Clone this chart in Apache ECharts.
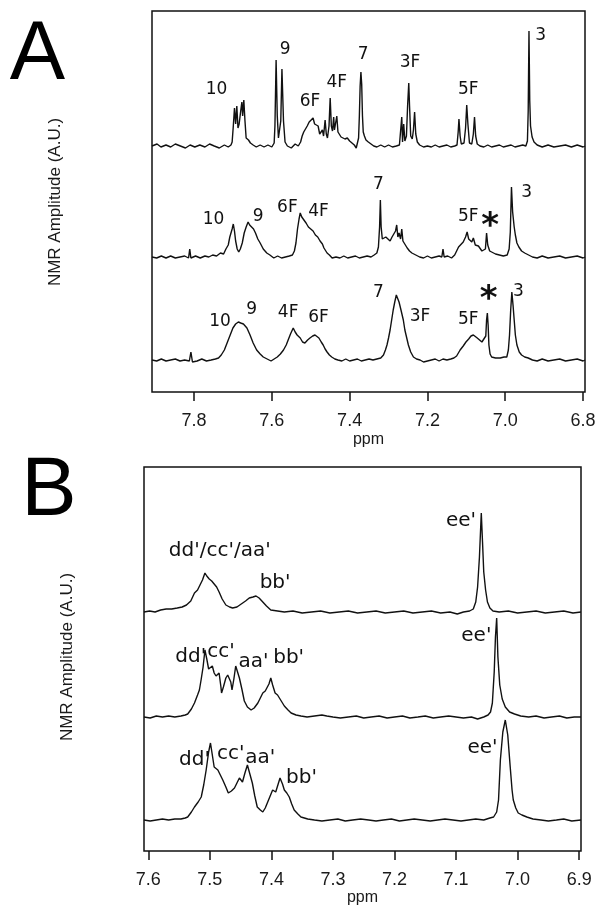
<!DOCTYPE html>
<html>
<head>
<meta charset="utf-8">
<script src="https://cdn.jsdelivr.net/npm/echarts@6.0.0/dist/echarts.min.js"></script>
<style>
  html, body { margin: 0; padding: 0; background: #fff; }
  #chart { width: 604px; height: 918px; }
</style>
</head>
<body>
<div id="chart"></div>
<script>
// panel A spectra: [ppm, amplitude above own baseline]
var specA1 = [
  [7.908,0],[7.895,2],[7.885,-1],[7.872,1],[7.86,-1],[7.848,2],[7.835,0],[7.822,-2],[7.81,1],[7.798,-1],[7.785,1],[7.772,-1],[7.76,2],[7.748,0],[7.735,-2],[7.722,1],[7.712,-1],[7.705,1],
  [7.702,4],[7.699,20],[7.696,38],[7.693,22],[7.690,40],[7.687,18],[7.684,22],[7.680,35],[7.677,44],[7.675,30],[7.672,46],[7.669,25],[7.666,8],[7.660,6],[7.655,3],[7.648,1],
  [7.640,-1],[7.630,1],[7.620,-1],[7.610,1],[7.600,-1],[7.594,3],
  [7.592,20],[7.589,86],[7.586,30],[7.583,8],[7.580,6],[7.577,25],[7.574,77],[7.570,25],[7.566,4],[7.560,0],[7.550,-2],[7.540,2],[7.532,0],[7.526,4],
  [7.522,10],[7.518,14],[7.514,16],[7.509,20],[7.504,24],[7.499,22],[7.494,28],[7.490,22],[7.486,24],[7.481,20],[7.477,12],[7.473,14],[7.470,16],[7.467,10],
  [7.465,18],[7.463,26],[7.460,12],[7.457,8],[7.453,20],[7.450,48],[7.447,20],[7.444,15],[7.441,29],[7.439,16],[7.436,15],[7.433,30],[7.430,14],[7.427,12],[7.422,9],[7.417,10],[7.412,7],[7.406,8],[7.400,5],[7.394,3],[7.388,1],[7.383,-2],[7.379,0],
  [7.377,8],[7.375,30],[7.373,60],[7.371,74],[7.369,62],[7.367,30],[7.365,14],[7.362,10],[7.358,6],[7.352,4],[7.345,2],[7.338,0],
  [7.330,-1],[7.320,1],[7.310,-1],[7.300,1],[7.290,-1],[7.280,0],[7.272,1],
  [7.268,2],[7.266,29],[7.264,4],[7.261,22],[7.258,5],[7.254,10],[7.251,40],[7.248,63],[7.246,40],[7.243,10],[7.239,7],[7.236,16],[7.233,34],[7.230,12],[7.226,4],[7.220,1],
  [7.210,-1],[7.200,0],[7.190,-1],[7.180,1],[7.170,-1],[7.160,0],[7.150,1],[7.140,-1],[7.130,0],[7.124,1],
  [7.121,14],[7.119,27],[7.116,10],[7.113,2],[7.106,3],[7.102,18],[7.099,41],[7.096,22],[7.092,3],[7.086,2],[7.082,12],[7.079,29],[7.076,10],[7.072,2],
  [7.065,0],[7.055,-1],[7.045,1],[7.035,-1],[7.025,0],[7.015,1],[7.005,-1],[6.995,0],[6.985,1],[6.975,-1],[6.965,0],[6.955,1],[6.947,0],
  [6.943,5],[6.941,35],[6.939,115],[6.937,45],[6.935,20],[6.931,9],[6.926,4],[6.918,1],
  [6.905,-1],[6.89,1],[6.875,-1],[6.86,0],[6.845,1],[6.83,-1],[6.815,1],[6.80,-1],[6.795,0]
];
var specA2 = [
  [7.908,0],[7.896,-1],[7.884,1],[7.872,-1],[7.86,1],[7.848,-1],[7.836,0],[7.824,1],[7.814,-1],[7.811,8],[7.808,-1],[7.796,1],[7.784,-1],[7.772,1],[7.762,0],[7.752,2],[7.742,1],[7.732,4],[7.724,3],[7.718,8],[7.712,12],
  [7.708,20],[7.705,24],[7.702,28],[7.699,33],[7.696,26],[7.693,16],[7.689,8],[7.685,5],[7.681,8],
  [7.676,14],[7.671,24],[7.666,30],[7.661,35],[7.657,32],[7.652,30],[7.647,28],[7.642,24],[7.636,18],[7.630,14],[7.622,8],[7.613,4],[7.605,2],[7.595,-1],[7.585,1],[7.575,-1],[7.565,0],[7.555,1],[7.547,2],
  [7.542,6],[7.538,14],[7.534,28],[7.530,38],[7.527,44],[7.523,40],[7.518,38],[7.512,34],[7.506,30],[7.500,28],[7.494,26],[7.488,22],[7.482,20],[7.476,16],[7.470,13],[7.466,9],[7.462,8],[7.458,4],[7.452,2],[7.445,-1],
  [7.435,0],[7.425,-1],[7.415,1],[7.405,-1],[7.395,0],[7.385,1],[7.375,-1],[7.365,0],[7.355,1],[7.345,0],[7.337,2],
  [7.330,4],[7.326,10],[7.323,30],[7.321,57],[7.319,30],[7.316,18],[7.312,17],[7.307,20],[7.302,22],[7.296,16],[7.291,20],[7.286,18],[7.282,26],[7.279,32],[7.276,20],[7.273,24],[7.269,18],[7.266,28],[7.263,16],[7.258,17],[7.252,9],[7.246,6],[7.240,4],[7.230,2],[7.220,0],
  [7.210,-1],[7.200,1],[7.190,-1],[7.180,0],[7.170,1],[7.163,0],[7.160,8],[7.157,0],[7.148,1],[7.138,-1],[7.130,2],
  [7.125,6],[7.120,10],[7.115,12],[7.108,15],[7.102,20],[7.098,25],[7.094,18],[7.090,20],[7.086,15],[7.082,19],[7.077,12],[7.073,10],[7.069,11],[7.065,12],[7.060,6],[7.055,5],[7.051,8],[7.048,24],[7.045,12],[7.040,6],[7.035,4],[7.025,3],[7.015,2],[7.005,1],[6.995,2],
  [6.990,8],[6.987,25],[6.984,70],[6.981,45],[6.977,30],[6.974,22],[6.970,14],[6.965,10],[6.958,6],[6.950,4],[6.940,2],[6.930,0],[6.918,-1],[6.905,1],[6.890,-1],[6.875,0],[6.860,1],[6.845,-1],[6.830,0],[6.815,1],[6.800,-1],[6.795,0]
];
var specA3 = [
  [7.908,0],[7.896,-1],[7.884,1],[7.872,-1],[7.86,0],[7.848,1],[7.836,-1],[7.824,0],[7.812,-1],[7.808,8],[7.804,-2],[7.792,-1],[7.780,1],[7.768,-1],[7.756,0],[7.745,1],[7.737,2],
  [7.730,5],[7.722,10],[7.714,18],[7.707,25],[7.700,32],[7.693,36],[7.686,38],[7.680,37],[7.673,36],[7.664,32],[7.656,25],[7.648,17],[7.639,10],[7.630,6],[7.622,3],[7.612,1],[7.602,-1],[7.594,1],
  [7.586,3],[7.578,6],[7.570,10],[7.563,15],[7.558,20],[7.552,26],[7.545,32],[7.540,28],[7.535,25],[7.527,22],[7.521,18],[7.515,17],[7.508,20],[7.502,22],[7.495,24],[7.489,25],[7.484,24],[7.479,22],[7.473,18],[7.468,15],[7.463,11],[7.458,8],[7.452,5],[7.446,3],[7.438,1],[7.430,0],
  [7.420,-1],[7.410,1],[7.400,-1],[7.390,0],[7.380,1],[7.370,-1],[7.360,0],[7.350,1],[7.340,0],[7.330,1],[7.320,2],
  [7.313,5],[7.308,10],[7.304,15],[7.300,22],[7.296,30],[7.292,40],[7.288,50],[7.284,58],[7.280,65],[7.277,64],[7.273,58],[7.268,50],[7.262,40],[7.258,30],[7.255,25],[7.249,15],[7.243,8],[7.236,3],[7.228,1],[7.219,0],
  [7.210,-2],[7.200,-1],[7.190,0],[7.180,1],[7.170,-1],[7.160,1],[7.150,0],[7.140,1],[7.132,2],
  [7.125,4],[7.116,10],[7.108,14],[7.101,18],[7.094,21],[7.088,24],[7.082,25],[7.077,23],[7.072,22],[7.066,20],[7.060,18],[7.055,20],[7.050,24],[7.048,40],[7.046,47],[7.044,35],[7.042,15],[7.039,6],[7.035,3],[7.025,2],[7.013,2],[7.003,3],[6.996,3],
  [6.992,10],[6.989,25],[6.986,50],[6.983,68],[6.980,55],[6.977,40],[6.974,25],[6.970,15],[6.964,8],[6.958,5],[6.950,3],[6.941,2],[6.930,0],[6.918,-1],[6.905,1],[6.890,-1],[6.875,0],[6.860,1],[6.845,-1],[6.830,0],[6.815,1],[6.800,-1],[6.795,0]
];

// panel B spectra
var specB1 = [
  [7.607,0],[7.598,1],[7.589,0],[7.580,2],[7.571,3],[7.562,3],[7.553,4],[7.545,5],[7.538,7],[7.531,11],[7.525,19],[7.520,22],[7.516,27],[7.512,32],[7.508,39],[7.505,36],[7.501,33],[7.497,31],[7.493,28],[7.489,25],[7.485,20],[7.480,13],[7.474,7],[7.468,5],[7.463,4],[7.456,5],[7.449,8],[7.442,11],[7.436,14],[7.430,15],[7.425,16],[7.420,14],[7.414,10],[7.408,6],[7.401,2],[7.390,1],[7.379,0],
  [7.365,1],[7.350,-1],[7.335,0],[7.320,1],[7.305,-1],[7.290,0],[7.275,1],[7.260,-1],[7.245,0],[7.230,1],[7.215,-1],[7.200,0],[7.185,1],[7.170,-1],[7.155,0],[7.140,1],[7.125,-1],[7.110,0],[7.098,-2],[7.088,0],[7.078,1],
  [7.072,3],[7.068,10],[7.065,25],[7.062,55],[7.059,99],[7.057,70],[7.055,40],[7.052,22],[7.049,10],[7.045,4],[7.040,1],[7.030,0],[7.015,1],[7.000,-1],[6.985,0],[6.970,1],[6.955,-1],[6.940,0],[6.925,1],[6.910,-1],[6.897,0]
];
var specB2 = [
  [7.607,0],[7.597,-1],[7.587,1],[7.577,0],[7.567,1],[7.557,0],[7.547,1],[7.540,2],[7.536,3],[7.530,8],[7.525,14],[7.520,22],[7.517,27],[7.514,38],[7.511,50],[7.508,67],[7.505,58],[7.502,48],[7.499,47],[7.496,51],[7.493,44],[7.490,41],[7.487,43],[7.485,44],[7.482,30],[7.481,24],[7.478,30],[7.474,39],[7.471,42],[7.468,44],[7.466,35],[7.464,27],[7.461,38],[7.458,51],[7.455,45],[7.452,39],[7.448,28],[7.444,16],[7.439,10],[7.433,7],[7.428,9],[7.422,14],[7.418,19],[7.414,24],[7.410,26],[7.407,27],[7.404,33],[7.401,39],[7.398,32],[7.394,24],[7.390,22],[7.387,21],[7.383,15],[7.379,11],[7.373,7],[7.368,4],[7.360,2],[7.352,1],[7.342,0],
  [7.330,1],[7.318,2],[7.310,1],[7.300,0],[7.288,-1],[7.275,0],[7.262,1],[7.250,-1],[7.238,0],[7.225,1],[7.212,-1],[7.200,0],[7.187,1],[7.175,-1],[7.162,0],[7.150,1],[7.137,-1],[7.125,0],[7.112,1],[7.100,0],[7.088,-1],[7.075,0],[7.065,-2],[7.055,0],[7.048,2],
  [7.044,5],[7.041,14],[7.038,45],[7.036,80],[7.034,99],[7.032,60],[7.029,32],[7.025,18],[7.020,10],[7.013,5],[7.005,3],[6.995,1],[6.982,0],[6.970,1],[6.957,-1],[6.945,0],[6.932,1],[6.920,-1],[6.908,0],[6.897,0]
];
var specB3 = [
  [7.607,0],[7.597,-1],[7.587,0],[7.577,1],[7.567,0],[7.557,1],[7.547,1],[7.540,2],[7.536,3],[7.530,8],[7.525,13],[7.519,18],[7.514,23],[7.510,35],[7.506,50],[7.502,68],[7.499,77],[7.496,65],[7.493,53],[7.490,51],[7.487,50],[7.483,45],[7.479,40],[7.474,33],[7.470,27],[7.465,29],[7.460,32],[7.456,37],[7.452,42],[7.447,38],[7.443,47],[7.439,55],[7.435,46],[7.431,37],[7.427,24],[7.423,13],[7.418,10],[7.414,8],[7.410,12],[7.406,18],[7.402,24],[7.398,30],[7.393,28],[7.389,36],[7.386,42],[7.382,36],[7.379,30],[7.375,27],[7.371,23],[7.367,16],[7.363,10],[7.357,6],[7.352,3],[7.341,1],[7.330,0],
  [7.318,-1],[7.305,0],[7.292,1],[7.280,-1],[7.268,0],[7.255,1],[7.242,0],[7.230,-1],[7.218,0],[7.205,1],[7.192,-1],[7.180,0],[7.168,1],[7.155,0],[7.142,-1],[7.130,0],[7.118,1],[7.105,0],[7.092,-1],[7.080,0],[7.068,1],[7.055,0],[7.045,2],
  [7.039,3],[7.034,8],[7.031,20],[7.028,60],[7.024,88],[7.020,100],[7.016,85],[7.012,53],[7.009,30],[7.007,20],[7.003,12],[6.999,7],[6.993,5],[6.985,3],[6.975,1],[6.962,0],[6.950,-1],[6.937,0],[6.925,1],[6.912,-1],[6.897,0]
];

// baselines of the stacked traces (amplitude units)
var offsetsA = [246, 135, 32];
var offsetsB = [239, 134, 31];

// tick values
var ticksA = [7.8, 7.6, 7.4, 7.2, 7.0, 6.8];
var ticksB = [7.6, 7.5, 7.4, 7.3, 7.2, 7.1, 7.0, 6.9];

// peak labels: [text, ppm, amplitude]
var labelsA = [
  ['10', 7.742, 302], ['9', 7.566, 342], ['6F', 7.502, 290], ['4F', 7.433, 309], ['7', 7.365, 337], ['3F', 7.245, 329], ['5F', 7.095, 302], ['3', 6.909, 356],
  ['10', 7.750, 172], ['9', 7.635, 175], ['6F', 7.560, 184], ['4F', 7.480, 180], ['7', 7.326, 207], ['5F', 7.095, 175], ['3', 6.945, 199],
  ['10', 7.733, 70], ['9', 7.652, 82], ['4F', 7.558, 79], ['6F', 7.480, 74], ['7', 7.326, 99], ['3F', 7.219, 75], ['5F', 7.095, 72], ['3', 6.966, 100]
];
var starsA = [['*', 7.039, 172], ['*', 7.043, 99]];
var labelsB = [
  ["dd'/cc'/aa'", 7.484, 300], ["bb'", 7.394, 268], ["ee'", 7.092, 330],
  ["dd'", 7.531, 194], ["cc'", 7.482, 199], ["aa'", 7.429, 189], ["bb'", 7.372, 193], ["ee'", 7.067, 215],
  ["dd'", 7.525, 91], ["cc'", 7.466, 97], ["aa'", 7.418, 93], ["bb'", 7.351, 73], ["ee'", 7.057, 103]
];

var ink = '#111';

function shift(arr, off) {
  return arr.map(function (p) { return [p[0], p[1] + off]; });
}

function traceSeries(arr, off, idx) {
  return {
    type: 'line',
    xAxisIndex: idx,
    yAxisIndex: idx,
    data: shift(arr, off),
    showSymbol: false,
    silent: true,
    lineStyle: { color: ink, width: 1.4 }
  };
}

function labelSeries(list, idx, size, weight, offset) {
  return {
    type: 'scatter',
    xAxisIndex: idx,
    yAxisIndex: idx,
    symbolSize: 0,
    silent: true,
    itemStyle: { opacity: 1 },
    data: list.map(function (l) { return { name: l[0], value: [l[1], l[2]] }; }),
    label: {
      show: true,
      position: 'inside',
      formatter: '{b}',
      color: ink,
      opacity: 1,
      fontFamily: 'DejaVu Sans',
      fontSize: size,
      fontWeight: weight,
      offset: offset || [0, 0]
    }
  };
}

function xAxisOf(idx, lo, hi, ticks, gap) {
  return {
    gridIndex: idx,
    type: 'value',
    inverse: true,
    min: lo,
    max: hi,
    axisLine: { show: false },
    axisTick: { show: true, inside: false, length: 9, customValues: ticks, lineStyle: { color: ink, width: 1.5 } },
    axisLabel: {
      customValues: ticks,
      margin: 20,
      color: '#1a1a1a',
      fontSize: 18,
      fontFamily: 'Liberation Sans',
      formatter: function (v) { return v.toFixed(1); }
    },
    splitLine: { show: false },
    name: 'ppm',
    nameLocation: 'middle',
    nameGap: gap,
    nameTextStyle: { color: '#1a1a1a', fontSize: 16, fontFamily: 'Liberation Sans' }
  };
}

var chart = echarts.init(document.getElementById('chart'));
chart.setOption({
  animation: false,
  backgroundColor: '#fff',
  grid: [
    { left: 152, top: 11, width: 433, height: 381, show: true, borderColor: ink, borderWidth: 1.5 },
    { left: 144, top: 467, width: 437, height: 384, show: true, borderColor: ink, borderWidth: 1.5 }
  ],
  xAxis: [
    xAxisOf(0, 6.795, 7.908, ticksA, 40),
    xAxisOf(1, 6.897, 7.607, ticksB, 38)
  ],
  yAxis: [
    { gridIndex: 0, type: 'value', min: 0, max: 381, show: false },
    { gridIndex: 1, type: 'value', min: 0, max: 384, show: false }
  ],
  series: [
    traceSeries(specA1, offsetsA[0], 0),
    traceSeries(specA2, offsetsA[1], 0),
    traceSeries(specA3, offsetsA[2], 0),
    traceSeries(specB1, offsetsB[0], 1),
    traceSeries(specB2, offsetsB[1], 1),
    traceSeries(specB3, offsetsB[2], 1),
    labelSeries(labelsA, 0, 17, 'normal'),
    labelSeries(starsA, 0, 34, 'bold', [0, 7]),
    labelSeries(labelsB, 1, 20, 'normal')
  ],
  graphic: [
    { type: 'text', x: 37.5, y: 56, style: { text: 'A', font: '83px Liberation Sans', fill: '#000', align: 'center', verticalAlign: 'middle' } },
    { type: 'text', x: 49, y: 492, style: { text: 'B', font: '83px Liberation Sans', fill: '#000', align: 'center', verticalAlign: 'middle' } },
    { type: 'text', x: 55, y: 202, rotation: Math.PI / 2, style: { text: 'NMR Amplitude (A.U.)', font: '17px Liberation Sans', fill: '#1a1a1a', align: 'center', verticalAlign: 'middle' } },
    { type: 'text', x: 67, y: 657, rotation: Math.PI / 2, style: { text: 'NMR Amplitude (A.U.)', font: '17px Liberation Sans', fill: '#1a1a1a', align: 'center', verticalAlign: 'middle' } }
  ]
});
</script>
</body>
</html>
